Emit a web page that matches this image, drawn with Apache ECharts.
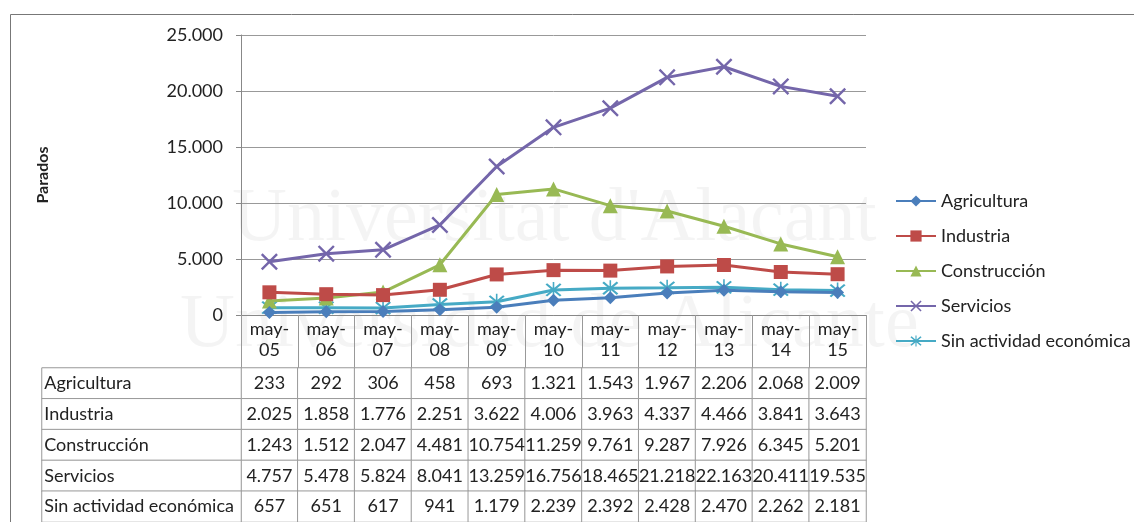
<!DOCTYPE html>
<html>
<head>
<meta charset="utf-8">
<script src="https://cdn.jsdelivr.net/npm/echarts@6/dist/echarts.min.js"></script>
<style>
  html, body { margin: 0; padding: 0; background: #fff; }
  #chart { width: 1134px; height: 522px; }
</style>
</head>
<body>
<div id="chart"></div>
<script>
// datos
var meses = ['may-05','may-06','may-07','may-08','may-09','may-10','may-11','may-12','may-13','may-14','may-15'];
var agricultura = [233, 292, 306, 458, 693, 1321, 1543, 1967, 2206, 2068, 2009];
var industria = [2025, 1858, 1776, 2251, 3622, 4006, 3963, 4337, 4466, 3841, 3643];
var construccion = [1243, 1512, 2047, 4481, 10754, 11259, 9761, 9287, 7926, 6345, 5201];
var servicios = [4757, 5478, 5824, 8041, 13259, 16756, 18465, 21218, 22163, 20411, 19535];
var sinActividad = [657, 651, 617, 941, 1179, 2239, 2392, 2428, 2470, 2262, 2181];
var sectores = ['Agricultura', 'Industria', 'Construcción', 'Servicios', 'Sin actividad económica'];

var FONT = 'Lato';
var FS = 18;
var symX = 'path://M2,0L10,8L18,0L20,2L12,10L20,18L18,20L10,12L2,20L0,18L8,10L0,2Z';
var symStar = 'path://M2,0L10,8L18,0L20,2L12,10L20,18L18,20L10,12L2,20L0,18L8,10L0,2ZM9,-2L11,-2L11,22L9,22Z';

function fmt(v) {
    return String(v).replace(/\B(?=(\d{3})+(?!\d))/g, '.');
}

var series = [agricultura, industria, construccion, servicios, sinActividad];
var colores = ['#4a7ebb', '#be4b48', '#98b954', '#7466aa', '#46aac5'];
var simbolos = ['diamond', 'rect', 'triangle', symX, symStar];
var tamanos = [13, 14, 15, 17, 16];

// celdas de la tabla
var celdas = [];
var nombres = [];
series.forEach(function (s, r) {
    s.forEach(function (v, c) { celdas.push([c, r, v]); });
    nombres.push([0, r, r]);
});

var chart = echarts.init(document.getElementById('chart'));
var lineSeries = series.map(function (s, i) {
    return {
        name: sectores[i],
        type: 'line',
        data: s,
        xAxisIndex: 0, yAxisIndex: 0,
        symbol: simbolos[i],
        symbolSize: tamanos[i],
        showAllSymbol: true,
        z: 10 - i,
        lineStyle: { color: colores[i], width: 3 },
        itemStyle: { color: colores[i] },
        emphasis: { disabled: true },
        animation: false
    };
});

chart.setOption({
    animation: false,
    textStyle: { fontFamily: FONT },
    graphic: [
        { type: 'rect', left: 8, top: 12, shape: { width: 1200, height: 600 },
          style: { fill: 'none', stroke: '#777', lineWidth: 1 }, z: -1 },
        { type: 'text', left: 232, top: 182, z: -1,
          style: { text: "Universitat d'Alacant", font: '76px "Liberation Serif"', fill: 'rgba(0,0,0,0.045)' } },
        { type: 'text', left: 180, top: 288, z: -1,
          style: { text: 'Universidad de Alicante', font: '76px "Liberation Serif"', fill: 'rgba(0,0,0,0.045)' } }
    ],
    legend: {
        orient: 'vertical',
        left: 890,
        top: 187,
        itemGap: 17,
        itemWidth: 40,
        itemHeight: 14,
        data: sectores,
        textStyle: { fontFamily: FONT, fontSize: FS, color: '#222' }
    },
    grid: [
        { left: 241, top: 35, width: 625, height: 280 },
        { left: 241, top: 368, width: 625, height: 154 },
        { left: 42, top: 368, width: 199, height: 154 }
    ],
    xAxis: [
        {
            type: 'category', gridIndex: 0, data: meses, boundaryGap: true,
            axisLine: { lineStyle: { color: '#888', width: 1 } },
            axisTick: { show: true, interval: 0, length: 53, lineStyle: { color: '#999' } },
            axisLabel: {
                interval: 0, margin: 4, fontSize: FS, color: '#222', lineHeight: 21,
                formatter: function (v) { return v.replace('-', '-\n'); }
            }
        },
        { type: 'category', gridIndex: 1, data: meses, show: false },
        { type: 'category', gridIndex: 2, data: ['s'], show: false }
    ],
    yAxis: [
        {
            type: 'value', gridIndex: 0, min: 0, max: 25000, interval: 5000,
            name: 'Parados', nameLocation: 'middle', nameGap: 190, nameRotate: 90,
            nameTextStyle: { fontWeight: 'bold', fontSize: 16, color: '#222' },
            axisLine: { show: true, lineStyle: { color: '#888' } },
            axisTick: { show: true, length: 5, lineStyle: { color: '#888' } },
            axisLabel: { margin: 18, fontSize: FS, color: '#222', formatter: fmt },
            splitLine: { lineStyle: { color: '#999', width: 1 } }
        },
        { type: 'category', gridIndex: 1, data: sectores, inverse: true, show: false },
        { type: 'category', gridIndex: 2, data: sectores, inverse: true, show: false }
    ],
    series: lineSeries.concat([
        {
            type: 'heatmap', xAxisIndex: 1, yAxisIndex: 1, data: celdas,
            itemStyle: { color: '#fff', borderColor: '#999', borderWidth: 1 },
            label: { show: true, fontFamily: FONT, fontSize: FS, color: '#222',
                     formatter: function (p) { return fmt(p.value[2]); } },
            emphasis: { disabled: true }
        },
        {
            type: 'heatmap', xAxisIndex: 2, yAxisIndex: 2, data: nombres,
            itemStyle: { color: '#fff', borderColor: '#999', borderWidth: 1 },
            label: { show: true, position: 'insideLeft', distance: 3, fontFamily: FONT,
                     fontSize: FS, color: '#222',
                     formatter: function (p) { return sectores[p.value[2]]; } },
            emphasis: { disabled: true }
        }
    ])
});
</script>
</body>
</html>
